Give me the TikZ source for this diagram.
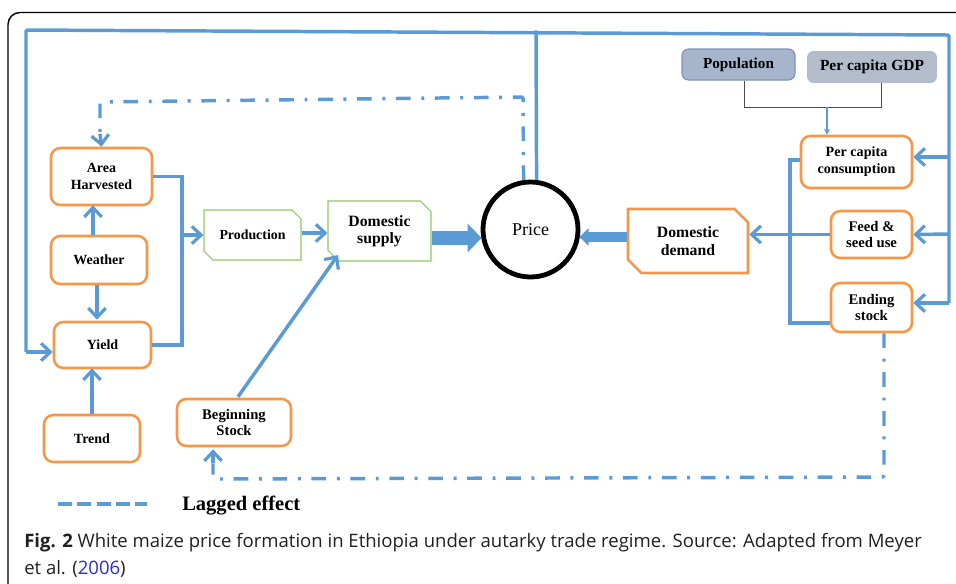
\documentclass[tikz,border=0pt]{standalone}
\usepackage{fontspec}
\setmainfont{Liberation Serif}
\newfontfamily\capfont{Open Sans}
\usetikzlibrary{arrows.meta,shapes.misc,calc}
\definecolor{lineblue}{RGB}{91,155,213}
\definecolor{boxorange}{RGB}{247,150,70}
\definecolor{boxgreen}{RGB}{146,200,100}
\definecolor{popfill}{RGB}{167,181,204}
\definecolor{popdraw}{RGB}{125,147,184}
\definecolor{gdpfill}{RGB}{178,188,203}
\definecolor{captext}{RGB}{35,31,32}
\definecolor{linkblue}{RGB}{40,40,220}
\begin{document}
\begin{tikzpicture}[x=0.75pt,y=0.75pt,yscale=-1,xscale=1,
  bline/.style={draw=lineblue,line width=2.6pt},
  flow/.style={bline,-{Straight Barb[length=7pt,width=13pt,line width=2.4pt]}},
  lag/.style={draw=lineblue,line width=2.6pt,dash pattern=on 11pt off 8pt on 2.2pt off 8pt},
  bigflow/.style={draw=lineblue,line width=10.5pt,-{Triangle[length=10.5pt,width=21pt]}},
  obox/.style={draw=boxorange,line width=1.9pt,rounded corners=7pt,fill=white,align=center,inner sep=0pt,font=\bfseries\fontsize{10.5}{12.5}\selectfont},
  gbox/.style={chamfered rectangle,chamfered rectangle corners={north east,south west},chamfered rectangle xsep=5pt,draw=boxgreen,line width=0.8pt,align=center,inner sep=0pt,font=\bfseries\fontsize{11}{13}\selectfont},
  dbox/.style={chamfered rectangle,chamfered rectangle corners={north east,south west},chamfered rectangle xsep=7pt,draw=boxorange,line width=1.9pt,align=center,inner sep=0pt,font=\bfseries\fontsize{11.8}{13}\selectfont},
  sbox/.style={rounded corners=5pt,align=center,inner sep=0pt,font=\bfseries\fontsize{11.4}{13}\selectfont}
]
\useasboundingbox (0,0) rectangle (956,583);
\clip (0,0) rectangle (956,583);

%Frame
\draw [line width=1.1pt,rounded corners=9pt] (8,620) -- (8,12.5) -- (990,12.5) ;

%Shape: Supply side boxes
\node[obox,minimum width=75.75pt,minimum height=42.75pt] (area) at (101.5,176.5) {Area\\Harvested};
\node[obox,minimum width=72pt,minimum height=36pt] (weather) at (99,260) {Weather};
\node[obox,minimum width=72.75pt,minimum height=34.5pt] (yield) at (102.5,345) {Yield};
\node[obox,minimum width=72pt,minimum height=35.25pt] (trend) at (92,438.5) {Trend};
\node[obox,minimum width=85.5pt,minimum height=35.25pt,font=\bfseries\fontsize{11}{12.5}\selectfont] (begin) at (234,422.5) {Beginning\\Stock};
\node[gbox,minimum width=72.75pt,minimum height=37.5pt,font=\bfseries\fontsize{10.4}{12.5}\selectfont] (prod) at (252.5,235) {Production};
\node[gbox,minimum width=77.25pt,minimum height=45pt,font=\bfseries\fontsize{11.8}{12.8}\selectfont] (supply) at (379.5,231) {Domestic\\supply};

%Shape: Price
\node[circle,draw,line width=3.6pt,minimum size=71.25pt,inner sep=0pt,font=\fontsize{13.5}{15}\selectfont] (price) at (530.5,229.5) {Price};

%Shape: Demand side boxes
\node[dbox,minimum width=90pt,minimum height=48pt] (demand) at (688,241) {Domestic\\demand};
\node[sbox,draw=popdraw,line width=0.9pt,fill=popfill,minimum width=84.75pt,minimum height=23.25pt] (pop) at (738.5,64.5) {Population};
\node[sbox,fill=gdpfill,minimum width=97.5pt,minimum height=24pt,font=\bfseries\fontsize{11.6}{13}\selectfont] (gdp) at (872,67) {Per capita GDP};
\node[obox,minimum width=83.25pt,minimum height=39pt,font=\bfseries\fontsize{10.6}{12.7}\selectfont] (pcc) at (856.5,162) {Per capita\\consumption};
\node[obox,minimum width=60.75pt,minimum height=35.25pt,font=\bfseries\fontsize{11}{12.2}\selectfont] (feed) at (871.5,234.5) {Feed \&\\seed use};
\node[obox,minimum width=60.75pt,minimum height=36.75pt,font=\bfseries\fontsize{11}{12.2}\selectfont] (ending) at (871.5,307.5) {Ending\\stock};

%Corner points
\coordinate (tl) at (26,30);
\coordinate (tr) at (949,35);
\coordinate (ptop) at (536,30.3);
\coordinate (lj) at (26,352);
\coordinate (rj) at (949,303);
\coordinate (aj) at (182,235);
\coordinate (bl) at (744,107);
\coordinate (br) at (881,107);
\coordinate (bm) at (827,107);
\coordinate (cl) at (790,160);
\coordinate (cb) at (790,323);

%Straight Lines: price feedback loop
\draw[bline,rounded corners=1pt] (rj) -- (tr) -- (tl) -- (lj);
\draw[flow] (lj) -- ($(yield.west)+(0,7)$);
\draw[bline] (price.83) -- (ptop);
\draw[flow] (rj) -- ($(ending.east)+(0,-4.5)$);
\draw[flow] (949,157) -- ($(pcc.east)+(0,-5)$);
\draw[flow] (949,234) -- (feed.east);

%Straight Lines: supply side
\draw[bline] (area.east) -- (area.east -| aj) -- (yield.east -| aj) -- (yield.east);
\draw[flow] (aj) -- (prod.west);
\draw[flow] ($(prod.east)+(0,-2)$) -- ($(supply.west)+(0,2)$);
\draw[flow] ($(begin.north)+(4,-1)$) -- ($(supply.south west)+(5,-1)$);
\draw[flow] ($(weather.north)+(-6,0)$) -- ($(area.south)+(-8.5,-1)$);
\draw[flow] ($(weather.south)+(-2,0)$) -- ($(yield.north)+(-5.5,-1)$);
\draw[flow] (trend.north) -- ($(yield.south)+(-10.5,-1)$);

%Straight Lines: demand side
\draw[draw=black!70,line width=0.7pt] ($(pop.south)+(5.5,0)$) -- (bl) -- (br) -- ($(gdp.south)+(9,0)$);
\draw[draw=lineblue,line width=1pt,-{Stealth[length=4.5pt,width=4.5pt]}] (bm) -- ($(pcc.north)+(-29.5,0)$);
\draw[bline] ($(pcc.west)+(0,-2)$) -- (cl) -- (cb) -- ($(ending.west)+(0,15.5)$);
\draw[flow] (feed.west) -- (feed.west -| demand.east);

%Block arrows into price
\draw[bigflow] ($(supply.east)+(0,7)$) -- ($(price.west)+(1,8.5)$);
\draw[draw=lineblue,line width=7.5pt,-{Triangle[length=7pt,width=13pt]}] ($(demand.west)+(0,-4)$) -- ($(price.east)+(-1,7.5)$);

%Dash-dot lines: lagged effect
\draw[lag,rounded corners=1pt] (price.98) -- (523,97) -- (100,102) -- ($(area.north)+(-1.5,-12)$);
\draw[draw=lineblue,line width=2.6pt,-{Straight Barb[length=7pt,width=13pt,line width=2.4pt]}] ($(area.north)+(-1.5,-13)$) -- (area.north);
\draw[lag,rounded corners=1pt] ($(ending.south)+(12.5,0)$) -- (884,477) -- (213,479) -- ($(begin.south)+(-21,16)$);
\draw[draw=lineblue,line width=2.6pt,-{Straight Barb[length=7pt,width=13pt,line width=2.4pt]}] ($(begin.south)+(-21,16)$) -- ($(begin.south)+(-21,2)$);

%Legend
\coordinate (lgA) at (58,504);
\coordinate (lgB) at (147,504);
\draw[draw=lineblue,line width=2.8pt,dash pattern=on 10.5pt off 4pt] (lgA) -- (lgB);
\node[anchor=base west,inner sep=0pt,font=\bfseries\fontsize{15.4}{18}\selectfont] (lgtext) at (182,510) {Lagged effect};

%Caption
\node[anchor=base west,inner sep=0pt,text=captext,font=\capfont\fontsize{13.9}{16}\selectfont] (cap1) at (24,547) {\textbf{Fig. 2} White maize price formation in Ethiopia under autarky trade regime. Source: Adapted from Meyer};
\node[anchor=base west,inner sep=0pt,text=captext,font=\capfont\fontsize{13.9}{16}\selectfont] (cap2) at (24,574) {et al. ({\color{linkblue}2006})};

\end{tikzpicture}
\end{document}
